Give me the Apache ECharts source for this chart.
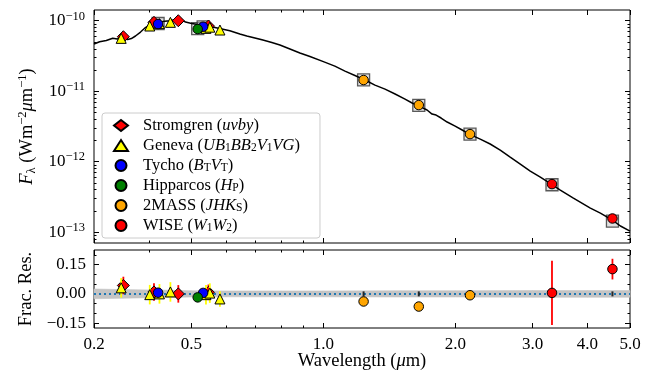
<!DOCTYPE html>
<html><head><meta charset="utf-8">
<script src="https://cdn.jsdelivr.net/npm/echarts@6/dist/echarts.min.js"></script>
<style>html,body{margin:0;padding:0;background:#fff}#c{width:652px;height:378px}</style>
</head><body><div id="c"></div>
<script>
// ---------------- data ----------------
const modelWave = [0.300,0.309,0.320,0.331,0.339,0.349,0.358,0.365,0.373,0.383,0.393,0.404,0.417,0.430,0.446,0.461,0.473,0.485,0.501,0.517,0.539,0.559,0.580,0.612,0.645,0.669,0.698,0.728,0.763,0.796,0.839,0.884,0.932,1.000,1.062,1.120,1.180,1.244,1.311,1.382,1.457,1.535,1.593,1.644,1.723,1.769,1.807,1.855,1.915,1.997,2.072,2.150,2.278,2.400,2.530,2.666,2.811,2.962,3.123,3.308,3.468,3.715,4.061,4.280,4.559,4.755,5.000];
const modelFlux = [4.67e-11,5.03e-11,5.23e-11,5.63e-11,5.50e-11,5.87e-11,5.41e-11,5.59e-11,6.07e-11,6.91e-11,8.01e-11,8.98e-11,9.58e-11,9.74e-11,1.00e-10,1.04e-10,1.057e-10,9.58e-11,9.13e-11,8.83e-11,8.69e-11,8.14e-11,7.75e-11,7.21e-11,6.47e-11,6.07e-11,5.68e-11,5.32e-11,4.90e-11,4.52e-11,3.97e-11,3.48e-11,3.10e-11,2.63e-11,2.27e-11,1.93e-11,1.67e-11,1.44e-11,1.22e-11,1.07e-11,9.11e-12,7.73e-12,6.79e-12,6.25e-12,5.40e-12,4.73e-12,4.58e-12,4.16e-12,3.65e-12,3.20e-12,2.81e-12,2.46e-12,2.09e-12,1.78e-12,1.46e-12,1.16e-12,9.23e-13,7.35e-13,6.04e-13,4.80e-13,3.95e-13,3.04e-13,2.19e-13,1.86e-13,1.48e-13,1.22e-13,1.03e-13];

const stromWave = [0.350, 0.411, 0.467, 0.547];
const stromFlux = [5.93e-11, 9.49e-11, 1.00e-10, 8.41e-11];
const stromRes  = [0.043, 0.010, 0.000, 0.008];
const stromErr  = [0.045, 0.045, 0.045, 0.040];

const genevaWave = [0.346, 0.402, 0.423, 0.448, 0.540, 0.551, 0.581];
const genevaFlux = [5.62e-11, 8.41e-11, 9.10e-11, 9.49e-11, 7.80e-11, 8.10e-11, 7.38e-11];
const genevaRes  = [0.031, -0.004, 0.000, 0.010, -0.004, 0.004, -0.026];
const genevaErr  = [0.050, 0.050, 0.050, 0.050, 0.050, 0.050, 0.040];

const tychoWave = [0.420, 0.532];
const tychoFlux = [8.98e-11, 8.22e-11];
const tychoRes  = [0.006, 0.005];
const tychoErr  = [0.020, 0.015];

const hippWave = [0.517];
const hippFlux = [7.62e-11];
const hippRes  = [-0.018];
const hippErr  = [0.008];

const tmassWave = [1.235, 1.650, 2.159];
const tmassFlux = [1.44e-11, 6.35e-12, 2.46e-12];
const tmassRes  = [-0.039, -0.065, -0.007];
const tmassErr  = [0.008, 0.012, 0.008];

const wiseWave = [3.32, 4.56];
const wiseFlux = [4.80e-13, 1.56e-13];
const wiseRes  = [0.005, 0.127];
const wiseErr  = [0.165, 0.053];

const synthWave = [0.420, 0.517, 0.532, 1.235, 1.650, 2.159, 3.32, 4.56];
const synthFlux = [9.13e-11, 7.75e-11, 8.20e-11, 1.45e-11, 6.30e-12, 2.45e-12, 4.70e-13, 1.43e-13];

const modelErrWave = [1.235, 1.650, 2.159, 3.32, 4.56];
const modelErrRes  = [0, 0, 0, 0, 0];

const bandWave = [0.30, 0.35, 0.40, 0.45, 0.50, 0.60, 0.80, 1.00, 1.50, 2.00, 3.00, 4.00, 5.00];
const bandHalf = [0.025, 0.022, 0.020, 0.018, 0.016, 0.015, 0.015, 0.015, 0.016, 0.016, 0.017, 0.017, 0.017];
const zeroWave = [0.30, 5.00];
const zeroRes  = [0, 0];

// axes / ticks
const xMin = 0.3, xMax = 5.0;
const xTickValues = [0.3, 0.5, 1, 2, 3, 4, 5];
const xTickLabels = ['0.2', '0.5', '1.0', '2.0', '3.0', '4.0', '5.0'];
const xMinorTicks = [0.4, 0.6, 0.7, 0.8, 0.9];
const fMin = 7.0e-14, fMax = 1.42e-10;
const fMajorTicks = [1e-13, 1e-12, 1e-11, 1e-10];
const fMinorTicks = [8e-14, 9e-14,
  2e-13, 3e-13, 4e-13, 5e-13, 6e-13, 7e-13, 8e-13, 9e-13,
  2e-12, 3e-12, 4e-12, 5e-12, 6e-12, 7e-12, 8e-12, 9e-12,
  2e-11, 3e-11, 4e-11, 5e-11, 6e-11, 7e-11, 8e-11, 9e-11];
const rMin = -0.175, rMax = 0.225;
const rMajorTicks = [-0.15, 0, 0.15];
const rMinorTicks = [-0.1, -0.05, 0.05, 0.1, 0.2];

const seriesNames = ['Stromgren', 'Geneva', 'Tycho', 'Hipparcos', '2MASS', 'WISE'];
const legendText = {
  'Stromgren': 'Stromgren ({i|uvby})',
  'Geneva': 'Geneva ({i|UB}{sub|1}{i|BB}{sub|2}{i|V}{sub|1}{i|VG})',
  'Tycho': 'Tycho ({i|B}{sub|T}{i|V}{sub|T})',
  'Hipparcos': 'Hipparcos ({i|H}{sub|P})',
  '2MASS': '2MASS ({i|JHK}{sub|S})',
  'WISE': 'WISE ({i|W}{sub|1}{i|W}{sub|2})'
};

// ---------------- chart ----------------
const FONT = 'Liberation Serif';
const zip = (a, b) => a.map((v, i) => [v, b[i]]);
const zip3 = (a, b, c) => a.map((v, i) => [v, b[i], c[i]]);

function richSet(fs) {
  return {
    b:   {fontFamily: FONT, fontSize: fs, lineHeight: 22, verticalAlign: 'middle', color: '#000'},
    i:   {fontFamily: FONT, fontSize: fs, lineHeight: 22, verticalAlign: 'middle', fontStyle: 'italic', color: '#000'},
    sup: {fontFamily: FONT, fontSize: 12.5, lineHeight: 12, verticalAlign: 'top', color: '#000'},
    sub: {fontFamily: FONT, fontSize: 12.5, lineHeight: 14, verticalAlign: 'bottom', color: '#000'}
  };
}
const richAxis = richSet(17);
const richName = richSet(18.5);
const LF = 16.5;
const richLegend = {
  t:   {fontFamily: FONT, fontSize: LF, lineHeight: 17, verticalAlign: 'middle', color: '#000', padding: [0, 0, 0, 10]},
  i:   {fontFamily: FONT, fontSize: LF, lineHeight: 17, verticalAlign: 'middle', fontStyle: 'italic', color: '#000'},
  sub: {fontFamily: FONT, fontSize: 11.5, lineHeight: 11, verticalAlign: 'bottom', color: '#000'}
};

function xLabel(v) {
  const idx = xTickValues.findIndex(t => Math.abs(t - v) / t < 1e-6);
  return idx >= 0 ? xTickLabels[idx] : '';
}
function fLabel(v) {
  const e = Math.round(Math.log10(v));
  return '{b|10}{sup|−' + Math.abs(e) + '}';
}
function rLabel(v) {
  if (Math.abs(v) < 1e-9) return '0.00';
  return (v < 0 ? '−' : '') + Math.abs(v).toFixed(2);
}

function xAxisCfg(grid, pos, ticks, len, withLabels) {
  const a = {
    type: 'log', logBase: 10, gridIndex: grid, position: pos, min: xMin, max: xMax,
    axisLine: {show: false, onZero: false},
    splitLine: {show: false},
    axisTick: {show: true, inside: true, length: len, customValues: ticks, lineStyle: {color: '#000', width: 1}},
    axisLabel: {show: false}
  };
  if (withLabels) {
    a.axisLabel = {show: true, customValues: xTickValues, formatter: xLabel, fontFamily: FONT, fontSize: 17, color: '#000', margin: 8};
    a.name = 'Wavelength ({i|μ}m)';
    a.nameLocation = 'middle';
    a.nameGap = 22;
    a.nameMoveOverlap = false;
    a.nameTextStyle = {fontFamily: FONT, fontSize: 18.5, color: '#000', lineHeight: 22, rich: richName};
  }
  return a;
}
function yAxisCfg(grid, pos, type, min, max, ticks, len, labelCfg) {
  const a = {
    type: type, gridIndex: grid, position: pos, min: min, max: max,
    axisLine: {show: false, onZero: false},
    splitLine: {show: false},
    axisTick: {show: true, inside: true, length: len, customValues: ticks, lineStyle: {color: '#000', width: 1}},
    axisLabel: {show: false}
  };
  if (type === 'log') a.logBase = 10;
  if (labelCfg) Object.assign(a, labelCfg);
  return a;
}

const xAxes = [
  xAxisCfg(0, 'bottom', xTickValues, 5, false),
  xAxisCfg(0, 'bottom', xMinorTicks, 2.5, false),
  xAxisCfg(0, 'top', xTickValues, 5, false),
  xAxisCfg(0, 'top', xMinorTicks, 2.5, false),
  xAxisCfg(1, 'bottom', xTickValues, 5, true),
  xAxisCfg(1, 'bottom', xMinorTicks, 2.5, false),
  xAxisCfg(1, 'top', xTickValues, 5, false),
  xAxisCfg(1, 'top', xMinorTicks, 2.5, false)
];
const yAxes = [
  yAxisCfg(0, 'left', 'log', fMin, fMax, fMajorTicks, 5, {
    axisLabel: {show: true, customValues: fMajorTicks, formatter: fLabel, margin: 9, fontFamily: FONT, fontSize: 17, color: '#000', rich: richAxis},
    name: '{i|F}{sub|λ} (Wm{sup|−2}{i|μ}m{sup|−1})', nameLocation: 'middle', nameRotate: 90, nameGap: 56, nameMoveOverlap: false,
    nameTextStyle: {fontFamily: FONT, fontSize: 18.5, color: '#000', lineHeight: 22, rich: richName}
  }),
  yAxisCfg(0, 'left', 'log', fMin, fMax, fMinorTicks, 2.5),
  yAxisCfg(0, 'right', 'log', fMin, fMax, fMajorTicks, 5),
  yAxisCfg(0, 'right', 'log', fMin, fMax, fMinorTicks, 2.5),
  yAxisCfg(1, 'left', 'value', rMin, rMax, rMajorTicks, 5, {
    axisLabel: {show: true, customValues: rMajorTicks, formatter: rLabel, margin: 8, fontFamily: FONT, fontSize: 17, color: '#000'},
    name: 'Frac. Res.', nameLocation: 'middle', nameRotate: 90, nameGap: 58, nameMoveOverlap: false,
    nameTextStyle: {fontFamily: FONT, fontSize: 18.5, color: '#000'}
  }),
  yAxisCfg(1, 'left', 'value', rMin, rMax, rMinorTicks, 2.5),
  yAxisCfg(1, 'right', 'value', rMin, rMax, rMajorTicks, 5),
  yAxisCfg(1, 'right', 'value', rMin, rMax, rMinorTicks, 2.5)
];

const groups = [
  {name: 'Stromgren', wave: stromWave, flux: stromFlux, res: stromRes, err: stromErr, symbol: 'diamond', size: 12, color: '#ff0000'},
  {name: 'Geneva', wave: genevaWave, flux: genevaFlux, res: genevaRes, err: genevaErr, symbol: 'triangle', size: 10, color: '#ffff00'},
  {name: 'Tycho', wave: tychoWave, flux: tychoFlux, res: tychoRes, err: tychoErr, symbol: 'circle', size: 9.5, color: '#0000ff'},
  {name: 'Hipparcos', wave: hippWave, flux: hippFlux, res: hippRes, err: hippErr, symbol: 'circle', size: 9.5, color: '#008000'},
  {name: '2MASS', wave: tmassWave, flux: tmassFlux, res: tmassRes, err: tmassErr, symbol: 'circle', size: 9.5, color: '#ffa500'},
  {name: 'WISE', wave: wiseWave, flux: wiseFlux, res: wiseRes, err: wiseErr, symbol: 'circle', size: 9.5, color: '#ff0000'}
];

const series = [];
// top panel: synthetic photometry squares, model, observed points
series.push({
  type: 'scatter', name: '_synth', xAxisIndex: 0, yAxisIndex: 0, z: 2,
  symbol: 'rect', symbolSize: 12, data: zip(synthWave, synthFlux),
  itemStyle: {color: 'rgba(185,185,185,0.55)', borderColor: '#333', borderWidth: 1.3},
  silent: true
});
series.push({
  type: 'line', name: '_model', xAxisIndex: 0, yAxisIndex: 0, z: 3,
  showSymbol: false, symbol: 'none', data: zip(modelWave, modelFlux),
  lineStyle: {color: '#000', width: 1.5}, silent: true
});
groups.forEach((g, k) => {
  series.push({
    type: 'scatter', name: g.name, xAxisIndex: 0, yAxisIndex: 0, z: 5 + k,
    symbol: g.symbol, symbolSize: g.size, data: zip(g.wave, g.flux),
    itemStyle: {color: g.color, borderColor: '#000', borderWidth: 1, opacity: 1}
  });
});
// residual panel: uncertainty band (polygon segments through the axes), zero line
const bandRows = bandWave.slice(0, -1).map((w, i) => [w, bandWave[i + 1], bandHalf[i], bandHalf[i + 1]]);
series.push({
  type: 'custom', name: '_band', xAxisIndex: 4, yAxisIndex: 4, z: 2, silent: true,
  data: bandRows, encode: {x: [0, 1], y: [2, 3]},
  renderItem: function (params, api) {
    const w0 = api.value(0), w1 = api.value(1), h0 = api.value(2), h1 = api.value(3);
    const pts = [api.coord([w0, -h0]), api.coord([w1, -h1]), api.coord([w1, h1]), api.coord([w0, h0])];
    return {type: 'polygon', shape: {points: pts},
      style: {fill: '#c4c4c4', stroke: '#c4c4c4', lineWidth: 0.6}};
  }
});
series.push({
  type: 'line', name: '_zero', xAxisIndex: 4, yAxisIndex: 4, z: 3,
  symbol: 'none', data: zip(zeroWave, zeroRes),
  lineStyle: {color: '#1f77b4', width: 2, type: [2, 3]}, silent: true
});
series.push({
  type: 'scatter', name: '_modelErr', xAxisIndex: 4, yAxisIndex: 4, z: 4,
  symbol: 'rect', symbolSize: [2, 5], data: zip(modelErrWave, modelErrRes),
  itemStyle: {color: '#000'}, silent: true
});
groups.forEach((g, k) => {
  series.push({
    type: 'custom', name: '_err' + k, xAxisIndex: 4, yAxisIndex: 4, z: 5 + 2 * k,
    data: zip3(g.wave, g.res, g.err), encode: {x: 0, y: 1}, silent: true,
    renderItem: function (params, api) {
      const x = api.value(0), y = api.value(1), e = api.value(2);
      const p1 = api.coord([x, y - e]), p2 = api.coord([x, y + e]);
      return {type: 'line', shape: {x1: p1[0], y1: p1[1], x2: p2[0], y2: p2[1]},
        style: {stroke: g.color, lineWidth: 1.8}};
    }
  });
  series.push({
    type: 'scatter', name: g.name, xAxisIndex: 4, yAxisIndex: 4, z: 6 + 2 * k,
    symbol: g.symbol, symbolSize: g.size, data: zip(g.wave, g.res),
    itemStyle: {color: g.color, borderColor: '#000', borderWidth: 1, opacity: 1}
  });
});

const chart = echarts.init(document.getElementById('c'), null, {renderer: 'canvas'});
chart.setOption({
  animation: false,
  backgroundColor: '#fff',
  grid: [
    {left: 94, top: 10, width: 536, height: 233, show: true, borderColor: '#000', borderWidth: 1, backgroundColor: 'transparent', containLabel: false, outerBoundsMode: 'none'},
    {left: 94, top: 250, width: 536, height: 78, show: true, borderColor: '#000', borderWidth: 1, backgroundColor: 'transparent', containLabel: false, outerBoundsMode: 'none'}
  ],
  xAxis: xAxes,
  yAxis: yAxes,
  legend: {
    data: seriesNames, orient: 'vertical', left: 102, top: 113,
    itemWidth: 14, itemHeight: 11, itemGap: 3, padding: [4, 20, 4, 11],
    backgroundColor: 'rgba(255,255,255,0.85)', borderColor: '#cccccc', borderWidth: 1, borderRadius: 3,
    selectedMode: false,
    formatter: name => legendText[name].replace(/^([^({]+)/, '{t|$1}'),
    textStyle: {fontFamily: FONT, fontSize: LF, color: '#000', lineHeight: 17, rich: richLegend}
  },
  series: series
});
</script>
</body></html>
